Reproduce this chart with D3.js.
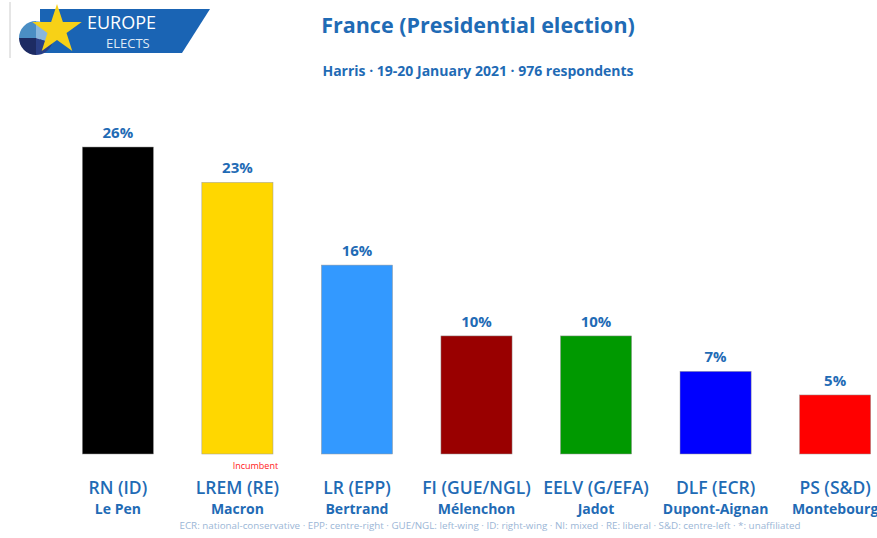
<!DOCTYPE html>
<html>
<head>
<meta charset="utf-8">
<script src="https://cdn.jsdelivr.net/npm/d3@7"></script>
<style>
  body { margin: 0; background: #fff; }
  svg { display: block; font-family: "Open Sans", sans-serif; }
</style>
</head>
<body>
<div id="chart"></div>
<script>
const width = 877, height = 538;

// Poll data
const parties = ['RN (ID)', 'LREM (RE)', 'LR (EPP)', 'FI (GUE/NGL)', 'EELV (G/EFA)', 'DLF (ECR)', 'PS (S&D)'];
const candidates = ['Le Pen', 'Macron', 'Bertrand', 'Mélenchon', 'Jadot', 'Dupont-Aignan', 'Montebourg'];
const values = [26, 23, 16, 10, 10, 7, 5];
const colors = ['#000000', '#ffd700', '#3399ff', '#990000', '#009900', '#0000ff', '#ff0000'];

const blue = '#1f6bb5';

const svg = d3.select('#chart')
    .append('svg')
    .attr('width', width)
    .attr('height', height);

// Scales
const x = d3.scaleBand()
    .domain(parties)
    .range([62, 891])
    .paddingInner(0.405)
    .paddingOuter(0.17);

const y = d3.scaleLinear()
    .domain([0, 26])
    .range([454, 147]);

// Logo
const logo = svg.append('g');
logo.append('line')
    .attr('x1', 10).attr('x2', 10).attr('y1', 2).attr('y2', 58)
    .attr('stroke', '#ccc');
logo.append('polygon')
    .attr('points', '40,9 210,9 182,53 40,53')
    .attr('fill', '#1a64b4');
// small pie
const pie = d3.pie().sort(null)([30, 20, 25, 25]);
const arc = d3.arc().innerRadius(0).outerRadius(17);
logo.append('g')
    .attr('transform', 'translate(36,38)')
    .selectAll('path')
    .data(pie)
    .enter().append('path')
    .attr('d', arc)
    .attr('fill', (d, i) => ['#8ab6dc', '#2a3f86', '#1d2b63', '#4b8ec4'][i]);
// star
const star = d3.range(10).map(i => {
    const r = i % 2 === 0 ? 26 : 10;
    const a = -Math.PI / 2 + i * Math.PI / 5;
    return [57 + r * Math.cos(a), 30 + r * Math.sin(a)];
});
logo.append('polygon')
    .attr('points', star.map(p => p.join(',')).join(' '))
    .attr('fill', '#f7d117');
logo.append('text')
    .attr('x', 87).attr('y', 29)
    .attr('fill', '#fff')
    .style('font-size', '18px')
    .text('EUROPE');
logo.append('text')
    .attr('x', 106).attr('y', 48)
    .attr('fill', '#dfe9f5')
    .style('font-size', '13px')
    .text('ELECTS');

// Title
svg.append('text')
    .attr('x', 478).attr('y', 33)
    .attr('text-anchor', 'middle')
    .attr('fill', blue)
    .style('font-size', '21.5px')
    .style('font-weight', 'bold')
    .text('France (Presidential election)');

svg.append('text')
    .attr('x', 478).attr('y', 76)
    .attr('text-anchor', 'middle')
    .attr('fill', blue)
    .style('font-size', '14px')
    .style('font-weight', 'bold')
    .text('Harris · 19-20 January 2021 · 976 respondents');

// Bars
svg.append('g')
    .selectAll('rect')
    .data(parties)
    .enter().append('rect')
    .attr('x', d => x(d))
    .attr('y', (d, i) => y(values[i]))
    .attr('width', x.bandwidth())
    .attr('height', (d, i) => y(0) - y(values[i]))
    .attr('fill', (d, i) => colors[i])
    .attr('stroke', '#999')
    .attr('stroke-width', 0.5);

// Value labels
svg.append('g')
    .selectAll('text')
    .data(parties)
    .enter().append('text')
    .attr('x', d => x(d) + x.bandwidth() / 2)
    .attr('y', (d, i) => y(values[i]) - 9)
    .attr('text-anchor', 'middle')
    .attr('fill', blue)
    .style('font-size', '15px')
    .style('font-weight', 'bold')
    .text((d, i) => values[i] + '%');

// Party labels
svg.append('g')
    .selectAll('text')
    .data(parties)
    .enter().append('text')
    .attr('x', d => x(d) + x.bandwidth() / 2)
    .attr('y', 494)
    .attr('text-anchor', 'middle')
    .attr('fill', blue)
    .style('font-size', '17.5px')
    .style('font-weight', '600')
    .text(d => d);

// Candidate labels
svg.append('g')
    .selectAll('text')
    .data(parties)
    .enter().append('text')
    .attr('x', d => x(d) + x.bandwidth() / 2)
    .attr('y', 514)
    .attr('text-anchor', 'middle')
    .attr('fill', blue)
    .style('font-size', '14px')
    .style('font-weight', 'bold')
    .text((d, i) => candidates[i]);

// Incumbent note
svg.append('text')
    .attr('x', x('LREM (RE)') + x.bandwidth() / 2 + 18)
    .attr('y', 469)
    .attr('text-anchor', 'middle')
    .attr('fill', '#ff2020')
    .style('font-size', '9px')
    .text('Incumbent');

// Footnote
svg.append('text')
    .attr('x', 490).attr('y', 529)
    .attr('text-anchor', 'middle')
    .attr('fill', '#9bb6d6')
    .style('font-size', '9.8px')
    .text('ECR: national-conservative · EPP: centre-right · GUE/NGL: left-wing · ID: right-wing · NI: mixed · RE: liberal · S&D: centre-left · *: unaffiliated');
</script>
</body>
</html>
